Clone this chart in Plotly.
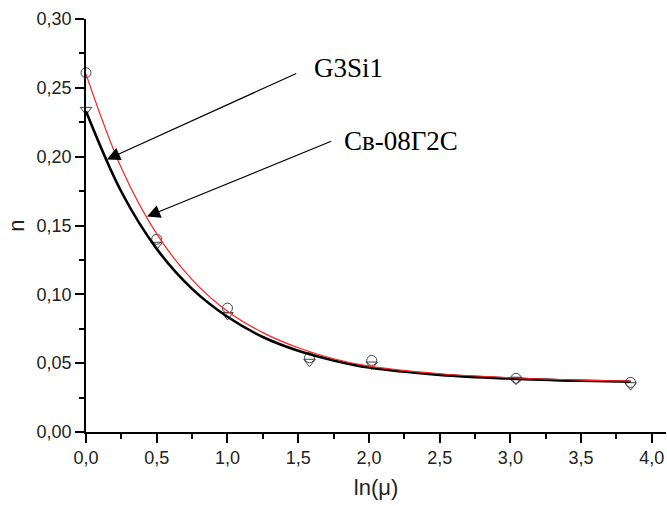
import plotly.graph_objects as go

# measured points
x_pts = [0.0, 0.5, 1.0, 1.58, 2.02, 3.04, 3.85]
n_g3si1 = [0.261, 0.140, 0.090, 0.054, 0.052, 0.039, 0.036]
n_sv08 = [0.234, 0.136, 0.085, 0.051, 0.049, 0.038, 0.034]

# fitted curves
x_fit = [0.0, 0.25, 0.5, 0.75, 1.0, 1.25, 1.5, 1.75, 2.0, 2.5, 3.0, 3.5, 3.85]
fit_g3si1 = [0.260, 0.1918, 0.1439, 0.1107, 0.0877, 0.0722, 0.0612, 0.0532, 0.0478, 0.0423, 0.0394, 0.0377, 0.0370]
fit_sv08 = [0.233, 0.1745, 0.133, 0.104, 0.0837, 0.0690, 0.0590, 0.0520, 0.0468, 0.0415, 0.0388, 0.0372, 0.0365]

x_ticks = [0.0, 0.5, 1.0, 1.5, 2.0, 2.5, 3.0, 3.5, 4.0]
y_ticks = [0.00, 0.05, 0.10, 0.15, 0.20, 0.25, 0.30]

label_g3 = "G3Si1"
label_sv = "Св-08Г2С"

fig = go.Figure()
fig.add_trace(go.Scatter(x=x_pts, y=n_g3si1, mode="markers", cliponaxis=False,
                         marker=dict(symbol="circle-open", size=10, color="#444", line=dict(width=1)),
                         showlegend=False))
fig.add_trace(go.Scatter(x=x_pts, y=n_sv08, mode="markers", cliponaxis=False,
                         marker=dict(symbol="triangle-down-open", size=10, color="#444", line=dict(width=1)),
                         showlegend=False))
fig.add_trace(go.Scatter(x=x_fit, y=fit_sv08, mode="lines", line=dict(color="black", width=2.6, shape="spline"),
                         cliponaxis=False, showlegend=False))
fig.add_trace(go.Scatter(x=x_fit, y=fit_g3si1, mode="lines", line=dict(color="#ff2020", width=1.2, shape="spline"),
                         cliponaxis=False, showlegend=False))

axis_common = dict(showline=True, linecolor="black", linewidth=1.5, ticks="outside", ticklen=9,
                   tickwidth=1.5, tickcolor="black", showgrid=False, zeroline=False,
                   tickfont=dict(family="Liberation Sans, Arial", size=18, color="#222"))

fig.update_xaxes(range=[0, 4.1], tickvals=x_ticks, tickformat=".1f",
                 minor=dict(ticks="outside", ticklen=5, tickwidth=1.5, tickcolor="black", dtick=0.25, tick0=0),
                 title=dict(text="ln(μ)", font=dict(family="Liberation Sans, Arial", size=22, color="#222"), standoff=12),
                 **axis_common)
fig.update_yaxes(range=[0, 0.30], tickvals=y_ticks, tickformat=".2f",
                 minor=dict(ticks="outside", ticklen=5, tickwidth=1.5, tickcolor="black", dtick=0.025, tick0=0),
                 title=dict(text="n", font=dict(family="Liberation Sans, Arial", size=22, color="#222"), standoff=6),
                 **axis_common)

ann_font = dict(family="Liberation Serif, Times New Roman", size=27, color="black")
fig.add_annotation(x=0.148, y=0.198, ax=1.497, ay=0.2609, xref="x", yref="y", axref="x", ayref="y",
                   text="", showarrow=True, arrowhead=2, arrowsize=2.2, arrowwidth=1.2, arrowcolor="black")
fig.add_annotation(x=0.431, y=0.1565, ax=1.744, ay=0.2116, xref="x", yref="y", axref="x", ayref="y",
                   text="", showarrow=True, arrowhead=2, arrowsize=2.2, arrowwidth=1.2, arrowcolor="black")
fig.add_annotation(x=1.595, y=0.2645, xref="x", yref="y", text=label_g3, showarrow=False,
                   xanchor="left", yanchor="middle", font=ann_font)
fig.add_annotation(x=1.810, y=0.2116, xref="x", yref="y", text=label_sv, showarrow=False,
                   xanchor="left", yanchor="middle", font=ann_font)

fig.update_layout(width=667, height=506, margin=dict(l=86, r=1, t=19, b=74),
                  plot_bgcolor="white", paper_bgcolor="white", separators=", ")

fig.write_html("out.html")
